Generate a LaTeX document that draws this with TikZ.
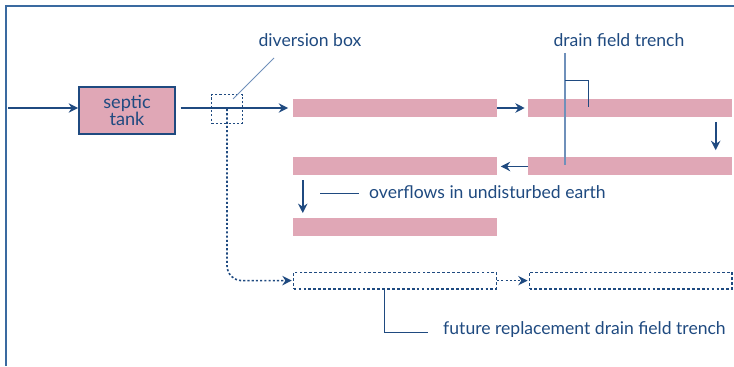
\documentclass[tikz,border=0pt]{standalone}
\usepackage{fontspec}
\setmainfont{Lato}
\usetikzlibrary{positioning,arrows.meta}
\definecolor{trenchpink}{HTML}{E0A7B6}
\definecolor{inkblue}{HTML}{1F4A80}
\definecolor{frameblue}{HTML}{3A6AA0}
\definecolor{leaderblue}{HTML}{6F90BA}

\begin{document}
\begin{tikzpicture}[x=0.03cm,y=-0.03cm,
    font=\fontsize{15}{17}\selectfont,
    trench/.style={rectangle, fill=trenchpink, minimum width=6.12cm, minimum height=0.54cm, inner sep=0pt},
    future/.style={rectangle, draw=inkblue, dash pattern=on 2.4pt off 1.8pt, line width=1.3pt, minimum width=6.08cm, minimum height=0.5cm, inner sep=0pt},
    flow/.style={draw=inkblue, line width=1.5pt, -{Stealth[length=8pt,width=8pt]}},
    dotflow/.style={draw=inkblue, line width=1.4pt, dash pattern=on 1.8pt off 1.8pt, -{Stealth[length=8pt,width=8pt]}},
    leader/.style={draw=inkblue, line width=0.7pt},
    label/.style={text=inkblue, inner sep=0pt}]

    \useasboundingbox (0,0) rectangle (734,366);
    \draw[frameblue, line width=1.8pt] (734,6) -- (6,6) -- (6,366);

    % tank and diversion box
    \node[rectangle, draw=inkblue, fill=trenchpink, line width=1.6pt, minimum width=2.88cm, minimum height=1.42cm, align=center, text=inkblue, font=\fontsize{15.5}{15}\selectfont] (tank) at (127,110.5) {septic\\tank};
    \node[rectangle, draw=inkblue, line width=1.4pt, dash pattern=on 1.8pt off 1.8pt, minimum width=0.92cm, minimum height=0.86cm] (divbox) at (227,109) {};
    \coordinate (inlet) at (8,108);

    % trenches
    \node[trench] (A) at (395,108) {};
    \node[trench] (B) [right=0.93cm of A] {};
    \node[trench] (C) [below=1.2cm of A] {};
    \node[trench] (D) [below=1.2cm of B] {};
    \node[trench] (E) [below=1.26cm of C] {};
    \node[future] (F) [below=1.06cm of E] {};
    \node[future] (G) [right=0.95cm of F] {};

    % flow
    \draw[flow] (inlet) -- (inlet -| tank.west);
    \draw[flow, shorten <=4pt, shorten >=4pt] (tank.east |- A) -- (A.west);
    \draw[flow, shorten >=3pt] (A.east) -- (B.west);
    \draw[flow, shorten <=4pt, shorten >=6pt] ([xshift=-0.51cm]B.south east) -- ([xshift=-0.51cm]D.north east);
    \draw[flow, shorten >=3pt] (D.west) -- (C.east);
    \draw[flow, shorten <=4pt, shorten >=4pt] ([xshift=0.3cm]C.south west) -- ([xshift=0.3cm]E.north west);
    \draw[dotflow, rounded corners=0.45cm, shorten >=1pt] (divbox.center) |- (F.west);
    \draw[dotflow, shorten >=1pt] (F.east) -- (G.west);

    % labels
    \node[label] (divtxt) at (310,40) {diversion box};
    \draw[leader, leaderblue] (274,58) -- (233,99);

    \node[label] (draintxt) at (619,40) {drain field trench};
    \draw[leaderblue, line width=2pt] (565,53) -- (565,165);
    \draw[leader] (565,80) -| (588,107);

    \node[label, anchor=west] (overtxt) at (369,192) {overflows in undisturbed earth};
    \draw[leader] (320,193) -- (359,193);

    \node[label, anchor=west] (futtxt) at (443,330) {future replacement drain field trench};
    \coordinate (futlead) at (428,332);
    \draw[leader] ([xshift=-0.33cm]F.south) |- (futlead);

\end{tikzpicture}
\end{document}
